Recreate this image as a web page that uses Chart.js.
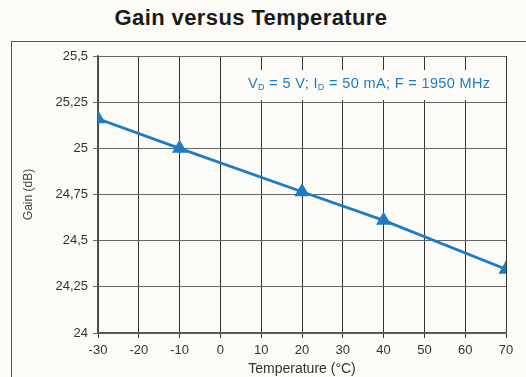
<!DOCTYPE html>
<html>
<head>
<meta charset="utf-8">
<script src="https://cdn.jsdelivr.net/npm/chart.js@4"></script>
<style>
  html, body { margin: 0; padding: 0; background: #fdfbf7; }
  #wrap { position: relative; width: 526px; height: 377px; overflow: hidden; }
  #title { position: absolute; left: 0; width: 502px; top: 5px; text-align: center;
           font: bold 22px "Liberation Sans", Arial, sans-serif; letter-spacing: 0.4px; color: #1a1a1a; }
  #box { position: absolute; left: 11px; top: 41px; width: 600px; height: 400px;
         border: 1.5px solid #555; }
  canvas { position: absolute; left: 0; top: 0; }
</style>
</head>
<body>
<div id="wrap">
  <div id="title">Gain versus Temperature</div>
  <div id="box"></div>
  <canvas id="chart" width="526" height="377"></canvas>
</div>
<script>
// data
const temps = [-30, -10, 20, 40, 70];
const gains = [25.16, 25.0, 24.765, 24.61, 24.345];

const xTicks = [-30, -20, -10, 0, 10, 20, 30, 40, 50, 60, 70];
const yTicks = [24, 24.25, 24.5, 24.75, 25, 25.25, 25.5];
const yTickLabels = ["24", "24,25", "24,5", "24,75", "25", "25,25", "25,5"];

const blue = "#1d7cc4";
const font = "'Liberation Sans', Arial, sans-serif";

// un peu d'espacement, le texte de l'original est étiré
const spacingPlugin = {
  id: "spacing",
  beforeInit(chart) { chart.ctx.letterSpacing = "0.6px"; }
};

// texte bleu avec les indices D, sur un fond qui cache la grille
const notePlugin = {
  id: "note",
  beforeDatasetsDraw(chart) {
    const c = chart.ctx;
    c.save();
    c.fillStyle = "#fdfbf7";
    c.fillRect(244, 70, 254, 30);
    c.restore();
  },
  afterDraw(chart) {
    const c = chart.ctx;
    const parts = [
      ["V", 0], ["D", 1], [" = 5 V; I", 0], ["D", 1], [" = 50 mA; F = 1950 MHz", 0]
    ];
    let x = 248;
    const y = 88;
    c.save();
    c.fillStyle = blue;
    c.letterSpacing = "0.35px";
    c.textBaseline = "alphabetic";
    for (const [t, sub] of parts) {
      c.font = (sub ? "9px " : "14.5px ") + font;
      c.fillText(t, x, sub ? y + 2 : y);
      x += c.measureText(t).width;
    }
    c.restore();
  }
};

new Chart(document.getElementById("chart"), {
  type: "line",
  data: {
    datasets: [{
      data: temps.map((t, i) => ({ x: t, y: gains[i] })),
      borderColor: blue,
      backgroundColor: blue,
      borderWidth: 2.8,
      pointStyle: "triangle",
      pointRadius: 6,
      pointHoverRadius: 6,
      tension: 0
    }]
  },
  options: {
    responsive: false,
    animation: false,
    layout: { padding: { left: 0, top: 56, right: 20, bottom: 0 } },
    plugins: { legend: { display: false }, tooltip: { enabled: false } },
    scales: {
      x: {
        type: "linear",
        min: -30,
        max: 70,
        afterBuildTicks: (s) => { s.ticks = xTicks.map(v => ({ value: v })); },
        afterFit: (s) => { s.height = 44; },
        grid: { color: "#333", lineWidth: 1, tickLength: 5 },
        border: { color: "#555", width: 1.5 },
        ticks: { color: "#333", font: { family: font, size: 13 }, padding: 5, maxRotation: 0 },
        title: {
          display: true,
          text: "Temperature (°C)",
          color: "#333",
          font: { family: font, size: 14 },
          padding: { top: 0, bottom: -1 }
        }
      },
      y: {
        min: 24,
        max: 25.5,
        afterBuildTicks: (s) => { s.ticks = yTicks.map(v => ({ value: v })); },
        afterFit: (s) => { s.width = 98; },
        grid: { color: "#666", lineWidth: 1, tickLength: 5 },
        border: { color: "#555", width: 1.5 },
        ticks: {
          color: "#333",
          font: { family: font, size: 13 },
          padding: 5,
          callback: (v) => yTickLabels[yTicks.indexOf(v)]
        },
        title: {
          display: true,
          text: "Gain (dB)",
          color: "#444",
          font: { family: font, size: 12 },
          padding: { top: 21, bottom: 0 }
        }
      }
    }
  },
  plugins: [spacingPlugin, notePlugin]
});
</script>
</body>
</html>
